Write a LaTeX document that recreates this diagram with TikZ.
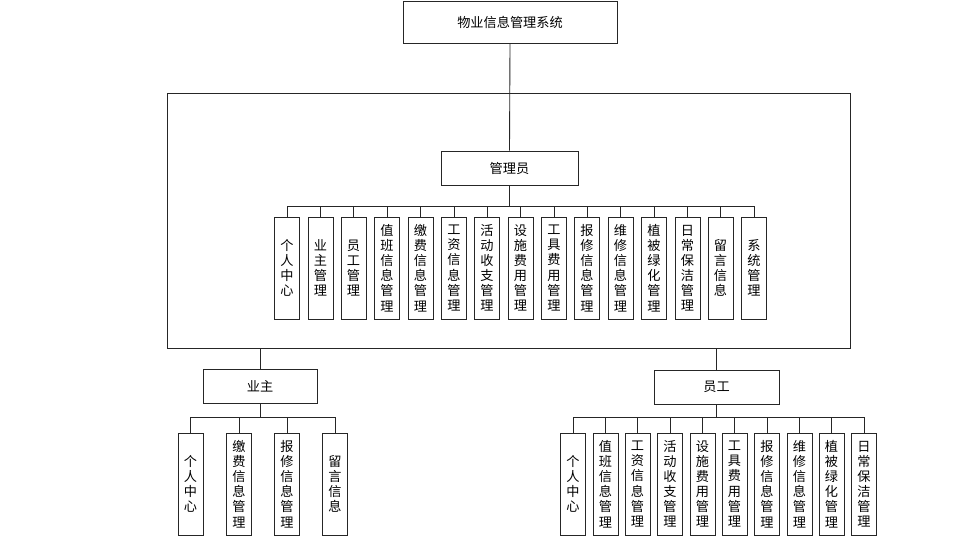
\documentclass[tikz,border=0pt]{standalone}
\usepackage{fontspec}
\setmainfont{Noto Sans CJK SC}

\begin{document}
\begin{tikzpicture}[line width=0.5pt,draw=black!85,
  box/.style={draw,minimum height=0.68cm,inner sep=0pt,font=\fontsize{7.5}{9}\selectfont},
  vbox/.style={draw,minimum width=0.5cm,minimum height=2.04cm,inner sep=0pt,align=center,font=\fontsize{7.5}{8.6}\selectfont}]
  \useasboundingbox (0,0) rectangle (19.6,-10.76);
  % system and administrator area
  \node[box,minimum width=4.28cm,minimum height=0.84cm] (sys) at (10.2,-0.44){物业信息管理系统};
  \node[draw,minimum width=13.66cm,minimum height=5.1cm] (area) at (10.17,-4.41){};
  \node[box,minimum width=2.74cm] (admin) at (10.19,-3.36){管理员};
  \draw (sys.south)--(admin.north);
  \coordinate (abus) at (10.19,-4.12);
  \draw (admin.south)--(abus);
  % administrator functions
  \node[vbox] (a1) at (5.74,-5.36){个\\人\\中\\心};     \draw (abus) -| (a1.north);
  \node[vbox] (a2) at (6.41,-5.36){业\\主\\管\\理};     \draw (abus) -| (a2.north);
  \node[vbox] (a3) at (7.07,-5.36){员\\工\\管\\理};     \draw (abus) -| (a3.north);
  \node[vbox] (a4) at (7.74,-5.36){值\\班\\信\\息\\管\\理}; \draw (abus) -| (a4.north);
  \node[vbox] (a5) at (8.41,-5.36){缴\\费\\信\\息\\管\\理}; \draw (abus) -| (a5.north);
  \node[vbox] (a6) at (9.08,-5.36){工\\资\\信\\息\\管\\理}; \draw (abus) -| (a6.north);
  \node[vbox] (a7) at (9.74,-5.36){活\\动\\收\\支\\管\\理}; \draw (abus) -| (a7.north);
  \node[vbox] (a8) at (10.41,-5.36){设\\施\\费\\用\\管\\理}; \draw (abus) -| (a8.north);
  \node[vbox] (a9) at (11.08,-5.36){工\\具\\费\\用\\管\\理}; \draw (abus) -| (a9.north);
  \node[vbox] (a10) at (11.74,-5.36){报\\修\\信\\息\\管\\理}; \draw (abus) -| (a10.north);
  \node[vbox] (a11) at (12.41,-5.36){维\\修\\信\\息\\管\\理}; \draw (abus) -| (a11.north);
  \node[vbox] (a12) at (13.08,-5.36){植\\被\\绿\\化\\管\\理}; \draw (abus) -| (a12.north);
  \node[vbox] (a13) at (13.75,-5.36){日\\常\\保\\洁\\管\\理}; \draw (abus) -| (a13.north);
  \node[vbox] (a14) at (14.41,-5.36){留\\言\\信\\息};     \draw (abus) -| (a14.north);
  \node[vbox] (a15) at (15.08,-5.36){系\\统\\管\\理};     \draw (abus) -| (a15.north);
  % owner
  \node[box,minimum width=2.28cm] (owner) at (5.2,-7.72){业主};
  \draw (owner.north)--(owner.north |- area.south);
  \coordinate (obus) at (5.2,-8.34);
  \draw (owner.south)--(obus);
  \node[vbox] (o1) at (3.81,-9.68){个\\人\\中\\心};     \draw (obus) -| (o1.north);
  \node[vbox] (o2) at (4.78,-9.68){缴\\费\\信\\息\\管\\理}; \draw (obus) -| (o2.north);
  \node[vbox] (o3) at (5.74,-9.68){报\\修\\信\\息\\管\\理}; \draw (obus) -| (o3.north);
  \node[vbox] (o4) at (6.70,-9.68){留\\言\\信\\息};     \draw (obus) -| (o4.north);
  % staff
  \node[box,minimum width=2.5cm] (staff) at (14.33,-7.74){员工};
  \draw (staff.north)--(staff.north |- area.south);
  \coordinate (sbus) at (14.33,-8.34);
  \draw (staff.south)--(sbus);
  \node[vbox] (s1) at (11.46,-9.68){个\\人\\中\\心};     \draw (sbus) -| (s1.north);
  \node[vbox] (s2) at (12.11,-9.68){值\\班\\信\\息\\管\\理}; \draw (sbus) -| (s2.north);
  \node[vbox] (s3) at (12.75,-9.68){工\\资\\信\\息\\管\\理}; \draw (sbus) -| (s3.north);
  \node[vbox] (s4) at (13.40,-9.68){活\\动\\收\\支\\管\\理}; \draw (sbus) -| (s4.north);
  \node[vbox] (s5) at (14.05,-9.68){设\\施\\费\\用\\管\\理}; \draw (sbus) -| (s5.north);
  \node[vbox] (s6) at (14.69,-9.68){工\\具\\费\\用\\管\\理}; \draw (sbus) -| (s6.north);
  \node[vbox] (s7) at (15.34,-9.68){报\\修\\信\\息\\管\\理}; \draw (sbus) -| (s7.north);
  \node[vbox] (s8) at (15.99,-9.68){维\\修\\信\\息\\管\\理}; \draw (sbus) -| (s8.north);
  \node[vbox] (s9) at (16.63,-9.68){植\\被\\绿\\化\\管\\理}; \draw (sbus) -| (s9.north);
  \node[vbox] (s10) at (17.28,-9.68){日\\常\\保\\洁\\管\\理}; \draw (sbus) -| (s10.north);
\end{tikzpicture}
\end{document}
